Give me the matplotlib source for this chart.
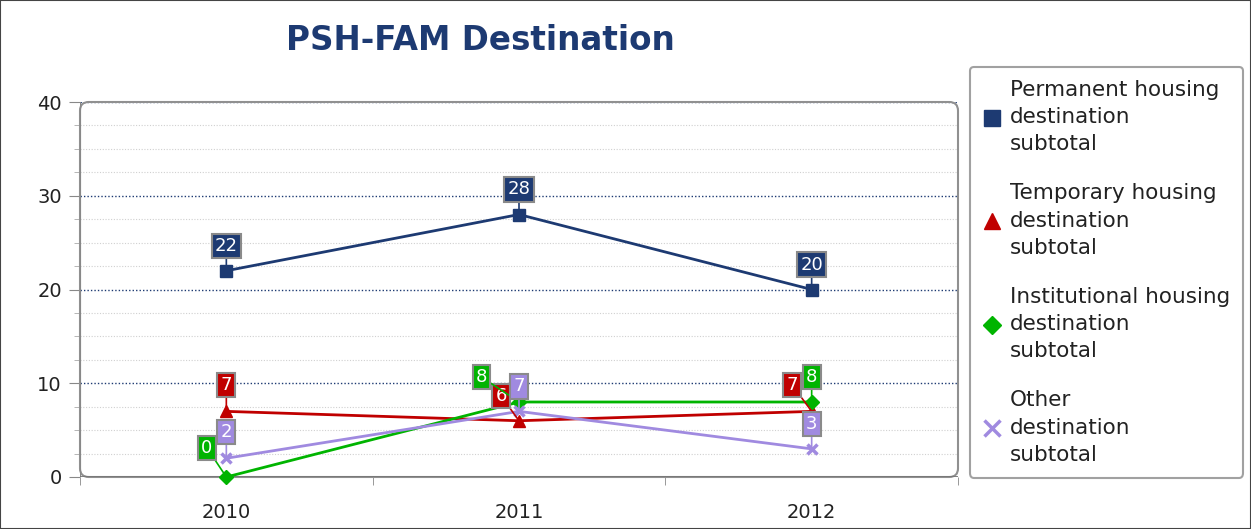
import matplotlib
matplotlib.use('Agg')
import matplotlib.pyplot as plt
from matplotlib.patches import FancyBboxPatch, Rectangle
from matplotlib.lines import Line2D
from matplotlib.ticker import MultipleLocator, FixedLocator

years = ['2010', '2011', '2012']
permanent = [22, 28, 20]
temporary = [7, 6, 7]
institutional = [0, 8, 8]
other = [2, 7, 3]

names = ['Permanent housing\ndestination\nsubtotal',
         'Temporary housing\ndestination\nsubtotal',
         'Institutional housing\ndestination\nsubtotal',
         'Other\ndestination\nsubtotal']
colors = ['#1d3a72', '#c00000', '#00b400', '#a08ae0']
markers = ['s', '^', 'D', 'x']

# label offsets (points) per series/point
offsets = [
    [(0, 18), (0, 18), (0, 18)],
    [(0, 19), (-13, 18), (-14, 19)],
    [(-14, 21), (-27, 18), (0, 18)],
    [(0, 19), (0, 18), (0, 18)],
]

fig = plt.figure(figsize=(12.51, 5.29), dpi=100)
ax = fig.add_axes([80/1251, 1-477/529, (958-80)/1251, (477-102)/529])

for s, (vals, col, mk) in enumerate(zip([permanent, temporary, institutional, other], colors, markers)):
    x = range(len(vals))
    ms = 9 if mk in ('s', '^') else 7
    mew = 2.5 if mk == 'x' else 1
    ax.plot(x, vals, color=col, lw=2, marker=mk, ms=ms, mew=mew, zorder=3, clip_on=False)

for s, (vals, col) in enumerate(zip([permanent, temporary, institutional, other], colors)):
    for i, v in enumerate(vals):
        ax.annotate(str(v), (i, v), xytext=offsets[s][i], textcoords='offset points',
                    ha='center', va='center', color='white', fontsize=13,
                    bbox=dict(boxstyle='square,pad=0.18', fc=col, ec='#8a8a8a', lw=1.5),
                    arrowprops=dict(arrowstyle='-', color=col, lw=1.2, shrinkA=0, shrinkB=0),
                    zorder=5, annotation_clip=False)

ax.set_xlim(-0.5, 2.5)
ax.set_ylim(0, 40)
ax.set_xticks(range(len(years)))
ax.set_xticklabels(years)
ax.xaxis.set_minor_locator(FixedLocator([-0.5, 0.5, 1.5, 2.5]))
ax.tick_params(axis='x', which='major', length=0, labelsize=14, pad=19, colors='#222222')
ax.tick_params(axis='x', which='minor', length=6, color='#888888', direction='out')
ax.yaxis.set_major_locator(MultipleLocator(10))
ax.yaxis.set_minor_locator(MultipleLocator(2.5))
ax.tick_params(axis='y', which='major', length=8, color='#888888', labelsize=14, pad=5, labelcolor='#222222')
ax.tick_params(axis='y', which='minor', length=4, color='#aaaaaa')
ax.grid(axis='y', which='major', color='#1d3a72', ls=(0, (1, 1.5)), lw=1)
ax.grid(axis='y', which='minor', color='#d0d0d0', ls=(0, (1, 1.5)), lw=0.8)
ax.set_axisbelow(True)
for sp in ax.spines.values():
    sp.set_visible(False)

frame = FancyBboxPatch((0, 0), 1, 1, boxstyle='round,pad=0,rounding_size=0.01',
                       transform=ax.transAxes, fc='none', ec='#909090', lw=1.5,
                       clip_on=False, zorder=2, mutation_aspect=2.3)
ax.add_patch(frame)
ax.axvline(-0.5, color='#888888', lw=1.5, zorder=2)
ax.axhline(0, color='#777777', lw=2, zorder=2)

fig.text(480/1251, 1-40/529, 'PSH-FAM Destination', ha='center', va='center',
         fontsize=23.5, fontweight='bold', color='#1d3a72')

handles = []
for col, mk in zip(colors, markers):
    handles.append(Line2D([], [], ls='none', marker=mk, color=col, ms=12 if mk != 'D' else 9,
                          mew=2.5 if mk == 'x' else 1))
leg = fig.legend(handles, names, loc='upper left', bbox_to_anchor=(970/1251, 1-67/529),
                 fontsize=15.5, frameon=True, fancybox=True, edgecolor='#8a8a8a',
                 labelspacing=1.35, handlelength=0.8, handletextpad=0.45, borderpad=0.6,
                 borderaxespad=0)
leg.get_frame().set_linewidth(1.5)
for t in leg.get_texts():
    t.set_color('#222222')
    t.set_linespacing(1.45)

fig.patches.append(Rectangle((0, 0), 1, 1, transform=fig.transFigure, fill=False,
                             ec='#444444', lw=1.5))

fig.savefig('out.png', dpi=100)
